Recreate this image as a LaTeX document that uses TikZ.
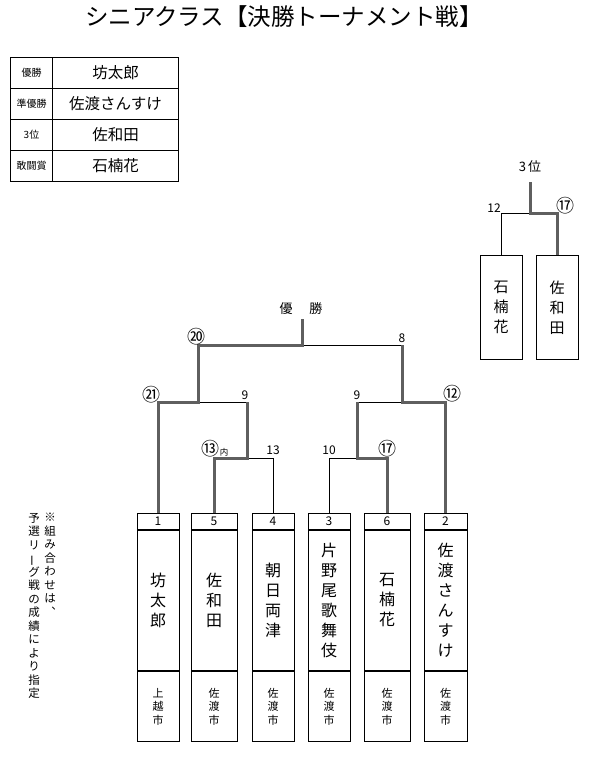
\documentclass[tikz,border=0pt]{standalone}
\usepackage{fontspec}
\setmainfont{Noto Sans CJK JP}
\definecolor{thk}{RGB}{95,95,95}
\begin{document}
\begin{tikzpicture}[x=1pt,y=-1pt,
  bthin/.style={line width=0.9pt,draw=black},
  bthick/.style={line width=3pt,draw=thk},
  boxbase/.style={draw,line width=1pt,inner sep=0pt,anchor=north,align=center},
  numbox/.style={boxbase,minimum height=16pt,font=\fontsize{12}{12}\selectfont},
  namebox/.style={boxbase,minimum height=140pt,font=\fontsize{16}{20}\selectfont},
  citybox/.style={boxbase,minimum height=70pt,font=\fontsize{11}{13.5}\selectfont},
  tbox/.style={boxbase,minimum height=104pt,minimum width=42pt,font=\fontsize{15}{20}\selectfont},
  lbl/.style={inner sep=0pt,font=\fontsize{12}{12}\selectfont},
  cnum/.style={inner sep=0pt,font=\fontsize{18}{18}\selectfont},
  tcell/.style={draw,line width=1pt,inner sep=0pt,anchor=north west,minimum height=31pt},
  note/.style={inner sep=0pt,anchor=north,align=center,font=\fontsize{11.5}{13.5}\selectfont},
]
\useasboundingbox (0,0) rectangle (593,758);

% title
\node[inner sep=0pt,font=\fontsize{23.5}{24}\selectfont] (title) at (284,17) {シニアクラス【決勝トーナメント戦】};

% result table
\node[tcell,minimum width=42pt,font=\fontsize{10}{10}\selectfont] (k1) at (10,57) {優勝};
\node[tcell,minimum width=126pt,font=\fontsize{15.5}{15.5}\selectfont] (v1) at (52,57) {坊太郎};
\node[tcell,minimum width=42pt,font=\fontsize{10}{10}\selectfont] (k2) at (10,88) {準優勝};
\node[tcell,minimum width=126pt,font=\fontsize{15.5}{15.5}\selectfont] (v2) at (52,88) {佐渡さんすけ};
\node[tcell,minimum width=42pt,font=\fontsize{10}{10}\selectfont] (k3) at (10,119) {3位};
\node[tcell,minimum width=126pt,font=\fontsize{15.5}{15.5}\selectfont] (v3) at (52,119) {佐和田};
\node[tcell,minimum width=42pt,font=\fontsize{10}{10}\selectfont] (k4) at (10,150) {敢闘賞};
\node[tcell,minimum width=126pt,font=\fontsize{15.5}{15.5}\selectfont] (v4) at (52,150) {石楠花};

% entrant boxes
\node[numbox,minimum width=42pt] (s1) at (158,513) {1};
\node[namebox,minimum width=42pt] (m1) at (s1.south) {坊\\太\\郎};
\node[citybox,minimum width=42pt] (c1) at (m1.south) {上\\越\\市};

\node[numbox,minimum width=46pt] (s5) at (214,513) {5};
\node[namebox,minimum width=46pt] (m5) at (s5.south) {佐\\和\\田};
\node[citybox,minimum width=46pt] (c5) at (m5.south) {佐\\渡\\市};

\node[numbox,minimum width=42pt] (s4) at (273,513) {4};
\node[namebox,minimum width=42pt] (m4) at (s4.south) {朝\\日\\両\\津};
\node[citybox,minimum width=42pt] (c4) at (m4.south) {佐\\渡\\市};

\node[numbox,minimum width=42pt] (s3) at (329,513) {3};
\node[namebox,minimum width=42pt] (m3) at (s3.south) {片\\野\\尾\\歌\\舞\\伎};
\node[citybox,minimum width=42pt] (c3) at (m3.south) {佐\\渡\\市};

\node[numbox,minimum width=46pt] (s6) at (387,513) {6};
\node[namebox,minimum width=46pt] (m6) at (s6.south) {石\\楠\\花};
\node[citybox,minimum width=46pt] (c6) at (m6.south) {佐\\渡\\市};

\node[numbox,minimum width=43pt] (s2) at (445.5,513) {2};
\node[namebox,minimum width=43pt] (m2) at (s2.south) {佐\\渡\\さ\\ん\\す\\け};
\node[citybox,minimum width=43pt] (c2) at (m2.south) {佐\\渡\\市};

% bracket junctions
\coordinate (q3L) at (247,458);
\coordinate (q3Lt) at (247,402);
\coordinate (q3R) at (357,458);
\coordinate (q3Rt) at (357,402);
\coordinate (q2L) at (198,402);
\coordinate (q2R) at (402,402);
\coordinate (q2Rt) at (402,345);
\coordinate (q1) at (302,345);
\coordinate (champ) at (302,319);

% thin lines
\draw[bthin] (q3L) -| (s4.north);
\draw[bthin] (q3R) -| (s3.north);
\draw[bthin] (q3Lt) -- (q2L);
\draw[bthin] (q3Rt) -- (q2R);
\draw[bthin] (q2Rt) -- (q1);

% thick (winner) lines
\draw[bthick] (s1.north) |- (q2L) |- (q1) -- (champ);
\draw[bthick] (s5.north) |- (q3L) -- (q3Lt);
\draw[bthick] (s6.north) |- (q3R) -- (q3Rt);
\draw[bthick] (s2.north) |- (q2R) -- (q2Rt);

% bracket labels
\node[inner sep=0pt,font=\fontsize{13}{13}\selectfont] (yusho) at (301,309) {優\hspace{17pt}勝};
\node[cnum] (l20) at (196,337) {⑳};
\node[lbl] (l8) at (402,338) {8};
\node[cnum] (l21) at (151,395) {㉑};
\node[lbl] (l9a) at (245,395) {9};
\node[lbl] (l9b) at (357,395) {9};
\node[cnum] (l12) at (452,394) {⑫};
\node[cnum] (l13c) at (210,449) {⑬};
\node[inner sep=0pt,font=\fontsize{8.5}{8.5}\selectfont] (lnai) at (224,452) {内};
\node[lbl] (l13) at (273,450) {13};
\node[lbl] (l10) at (329,450) {10};
\node[cnum] (l17) at (387,449) {⑰};

% third place
\node[tbox] (t1) at (501,255) {石\\楠\\花};
\node[tbox] (t2) at (557,255) {佐\\和\\田};
\coordinate (p3) at (530,213);
\coordinate (p3t) at (530,182);
\draw[bthin] (t1.north) |- (p3);
\draw[bthick] (t2.north) |- (p3) -- (p3t);
\node[inner sep=0pt,font=\fontsize{13}{13}\selectfont] (third) at (530,167) {3\hspace{2pt}位};
\node[lbl] (t12) at (494,208) {12};
\node[cnum] (t17) at (565,206) {⑰};

% note
\node[note] (nt1) at (50,513) {※\\組\\み\\合\\わ\\せ\\は\\︑};
\node[note] (nt2) at (34,513) {予\\選\\リ\\\rotatebox[origin=c]{90}{ー}\\グ\\戦\\の\\成\\績\\に\\よ\\り\\指\\定};
\end{tikzpicture}
\end{document}
